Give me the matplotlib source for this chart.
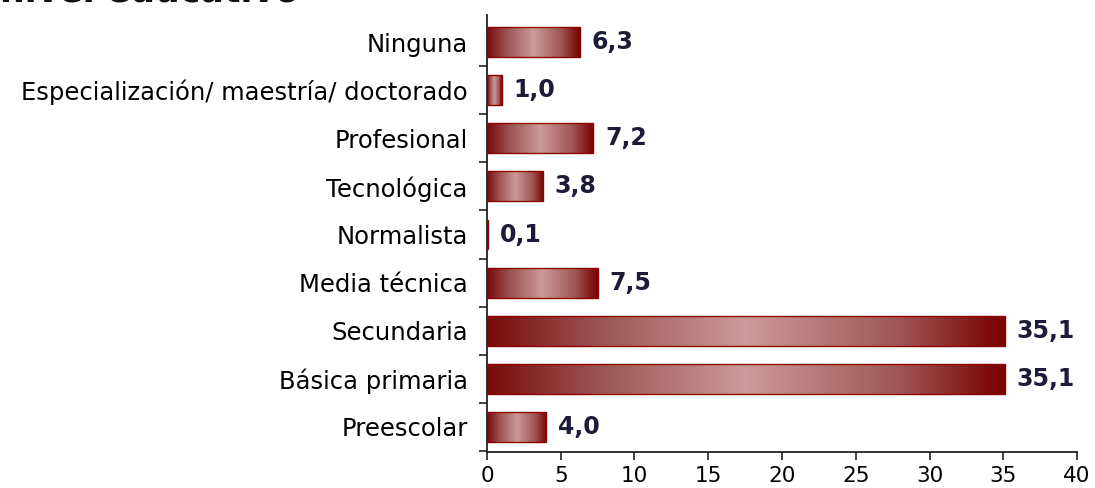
import numpy as np
import matplotlib
matplotlib.use("Agg")
import matplotlib.pyplot as plt
from matplotlib.colors import LinearSegmentedColormap

categories = ["Preescolar", "Básica primaria", "Secundaria", "Media técnica",
              "Normalista", "Tecnológica", "Profesional",
              "Especialización/ maestría/ doctorado", "Ninguna"]
values = [4.0, 35.1, 35.1, 7.5, 0.1, 3.8, 7.2, 1.0, 6.3]
value_labels = ["4,0", "35,1", "35,1", "7,5", "0,1", "3,8", "7,2", "1,0", "6,3"]
xticks = [0, 5, 10, 15, 20, 25, 30, 35, 40]

plt.rcParams['font.family'] = ['DejaVu Sans']

fig = plt.figure(figsize=(10.95, 4.88), dpi=100)
ax = fig.add_axes([0.4447, 0.0738, 0.9836 - 0.4447, 0.969 - 0.0738])

cmap = LinearSegmentedColormap.from_list(
    "bargrad",
    [(0.0, "#7a0a0a"), (0.2, "#9a5050"), (0.5, "#cc9a9a"), (0.8, "#a05555"), (1.0, "#780000")])
grad = np.linspace(0, 1, 256).reshape(1, -1)

h = 0.62
ypos = np.arange(len(categories))
bars = ax.barh(ypos, values, height=h, facecolor="none", edgecolor="#8b0000", linewidth=1.0, zorder=3)
for b, v, y in zip(bars, values, ypos):
    im = ax.imshow(grad, extent=[0, v, y - h / 2, y + h / 2], aspect="auto", cmap=cmap,
                   interpolation="bilinear", zorder=2)
    im.set_clip_path(b)

for v, y, lab in zip(values, ypos, value_labels):
    ax.text(v + 0.8, y, lab, va="center", ha="left", fontsize=17, fontweight="bold", color="#1c1c38")

ax.set_xlim(0, 40)
ax.set_ylim(-0.52, 8.56)
ax.set_aspect("auto")
ax.set_xticks(xticks)
ax.set_xticklabels([str(t) for t in xticks], fontsize=15.5)
ax.set_yticks(ypos)
ax.set_yticklabels(categories, fontsize=17.5)
ax.set_yticks(np.arange(-0.5, 8.5, 1.0), minor=True)
ax.tick_params(axis="y", which="major", length=0, pad=14)
ax.tick_params(axis="y", which="minor", length=6, width=1.2, direction="out", color="#222222")
ax.tick_params(axis="x", length=6, width=1.2, direction="out", color="#222222", pad=4)
for s in ["top", "right"]:
    ax.spines[s].set_visible(False)
for s in ["left", "bottom"]:
    ax.spines[s].set_linewidth(1.3)
    ax.spines[s].set_color("#222222")

fig.text(0.0, 1.0 - 2 / 488, "nivel educativo", fontsize=25, fontweight="bold", va="baseline", ha="left", color="#111111")

fig.savefig("out.png", dpi=100)
